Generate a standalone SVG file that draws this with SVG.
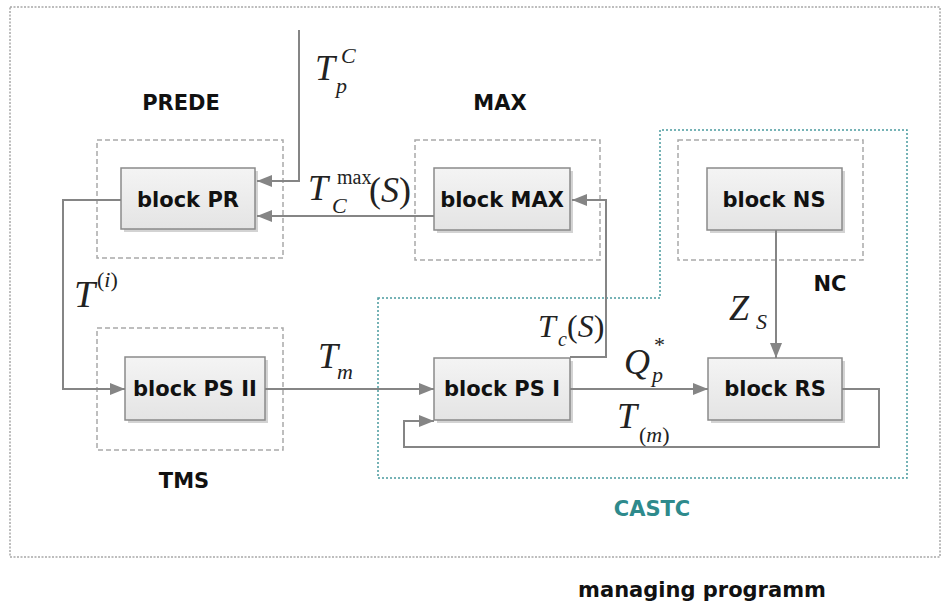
<svg xmlns="http://www.w3.org/2000/svg" width="944" height="605" viewBox="0 0 944 605">
<style>
.frame{fill:none;stroke:#a8a8a8;stroke-width:1.5;stroke-dasharray:2,1.5}
.grp{fill:none;stroke:#a9a9a9;stroke-width:1.5;stroke-dasharray:5,3}
.castc{fill:none;stroke:#4a9a9e;stroke-width:1.5;stroke-dasharray:2,2}
.blk{fill:url(#bg);stroke:#8a8a8a;stroke-width:1.5}
.shd{fill:#b5b5b5;opacity:0.6}
.lbl{font-family:"DejaVu Sans",Verdana,sans-serif;font-weight:bold;font-size:21px;fill:#111}
.bt{font-family:"DejaVu Sans",Verdana,sans-serif;font-weight:bold;font-size:21px;fill:#111;text-anchor:middle}
.m{font-family:"Liberation Serif","Times New Roman",serif;font-style:italic;fill:#222}
.u{font-style:normal}
.con{fill:none;stroke:#858585;stroke-width:2}
</style>
<defs>
<linearGradient id="bg" x1="0" y1="0" x2="0" y2="1">
<stop offset="0" stop-color="#f4f4f4"/>
<stop offset="1" stop-color="#e4e4e4"/>
</linearGradient>
<marker id="ah" markerUnits="userSpaceOnUse" markerWidth="16" markerHeight="14" refX="15" refY="7" orient="auto">
<path d="M0,1 L15,7 L0,13 Z" fill="#858585"/>
</marker>
</defs>
<rect width="944" height="605" fill="#fff"/>
<rect class="frame" x="10" y="7" width="930" height="550"/>

<g id="castc">
<path class="castc" d="M378,298 H660 V130 H907 V478 H378 Z"/>
<text x="652" y="516" text-anchor="middle" style="font-family:'DejaVu Sans',Verdana,sans-serif;font-weight:bold;font-size:21px;fill:#2e8a8c">CASTC</text>
</g>

<g id="prede">
<rect class="grp" x="97" y="140" width="186" height="118"/>
<text class="lbl" x="181" y="110" text-anchor="middle">PREDE</text>
</g>
<g id="max">
<rect class="grp" x="415" y="140" width="185" height="120"/>
<text class="lbl" x="500" y="110" text-anchor="middle">MAX</text>
</g>
<g id="nc">
<rect class="grp" x="678" y="140" width="185" height="120"/>
<text class="lbl" x="830" y="291" text-anchor="middle">NC</text>
</g>
<g id="tms">
<rect class="grp" x="97" y="328" width="186" height="122"/>
<text class="lbl" x="184" y="488" text-anchor="middle">TMS</text>
</g>

<g id="blockPR">
<rect class="shd" x="124" y="171" width="134" height="61"/>
<rect class="blk" x="121" y="168" width="134" height="61"/>
<text class="bt" x="188" y="207">block PR</text>
</g>
<g id="blockMAX">
<rect class="shd" x="437" y="171" width="136" height="62"/>
<rect class="blk" x="434" y="168" width="136" height="62"/>
<text class="bt" x="502" y="207">block MAX</text>
</g>
<g id="blockNS">
<rect class="shd" x="710" y="171" width="135" height="62"/>
<rect class="blk" x="707" y="168" width="135" height="62"/>
<text class="bt" x="774" y="207">block NS</text>
</g>
<g id="blockPSII">
<rect class="shd" x="128" y="360" width="140" height="63"/>
<rect class="blk" x="125" y="357" width="140" height="63"/>
<text class="bt" x="195" y="396">block PS II</text>
</g>
<g id="blockPSI">
<rect class="shd" x="437" y="361" width="136" height="62"/>
<rect class="blk" x="434" y="358" width="136" height="62"/>
<text class="bt" x="502" y="396">block PS I</text>
</g>
<g id="blockRS">
<rect class="shd" x="711" y="361" width="134" height="62"/>
<rect class="blk" x="708" y="358" width="134" height="62"/>
<text class="bt" x="775" y="396">block RS</text>
</g>

<g id="connectors">
<path class="con" d="M299,30 V181 H257" marker-end="url(#ah)"/>
<path class="con" d="M434,216 H257" marker-end="url(#ah)"/>
<path class="con" d="M121,200 H63 V389 H125" marker-end="url(#ah)"/>
<path class="con" d="M265,389 H434" marker-end="url(#ah)"/>
<path class="con" d="M570,357 H606 V200 H572" marker-end="url(#ah)"/>
<path class="con" d="M776,230 V358" marker-end="url(#ah)"/>
<path class="con" d="M570,389 H708" marker-end="url(#ah)"/>
<path class="con" d="M842,389 H879 V447 H404 V421 H434" marker-end="url(#ah)"/>
</g>

<g id="labels">
<text class="m" x="315" y="80" font-size="36">T</text>
<text class="m" x="341" y="63" font-size="22">C</text>
<text class="m" x="336" y="93" font-size="22">p</text>

<text class="m" x="308" y="200" font-size="36">T</text>
<text class="m u" x="337" y="184" font-size="20">max</text>
<text class="m" x="332" y="213" font-size="22">C</text>
<text class="m" x="369" y="202" font-size="36"><tspan class="u">(</tspan>S<tspan class="u">)</tspan></text>

<text class="m" x="74" y="307" font-size="38">T</text>
<text class="m" x="97" y="287" font-size="22"><tspan class="u">(</tspan>i<tspan class="u">)</tspan></text>

<text class="m" x="318" y="368" font-size="36">T</text>
<text class="m" x="337" y="379" font-size="22">m</text>

<text class="m" x="538" y="337" font-size="32">T</text>
<text class="m" x="558" y="346" font-size="20">c</text>
<text class="m" x="567" y="337" font-size="32"><tspan class="u">(</tspan>S<tspan class="u">)</tspan></text>

<text class="m" x="624" y="374" font-size="36">Q</text>
<text class="m u" x="654" y="352" font-size="22">*</text>
<text class="m" x="652" y="382" font-size="22">p</text>

<text class="m" x="617" y="428" font-size="36">T</text>
<text class="m" x="639" y="442" font-size="22"><tspan class="u">(</tspan>m<tspan class="u">)</tspan></text>

<text class="m" x="729" y="320" font-size="36">Z</text>
<text class="m" x="756" y="329" font-size="22">S</text>
</g>

<text class="lbl" x="702" y="597" text-anchor="middle">managing programm</text>
</svg>
